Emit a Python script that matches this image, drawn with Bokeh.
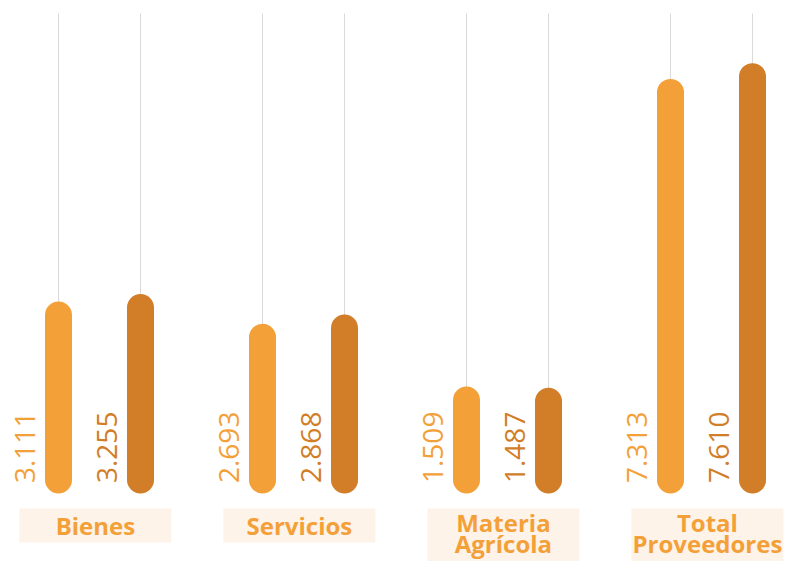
import math
from bokeh.plotting import figure
from bokeh.models import ColumnDataSource, Range1d
from bokeh.transform import dodge
from bokeh.core.properties import value
from bokeh.embed import file_html
from bokeh.resources import INLINE

# ---- data ----
categories = ["Bienes", "Servicios", "Materia Agrícola", "Total Proveedores"]
series_1 = [3.111, 2.693, 1.509, 7.313]
series_2 = [3.255, 2.868, 1.487, 7.610]

# ---- style ----
LIGHT = "#F4A038"
DARK = "#D27D27"
BOX = "#FDF3E8"
GUIDE = "#DADADA"
FONT = "Open Sans"

W, H = 785, 561
PX_PER_CAT = 204.0
X0 = 99.0          # frame px of the first category centre
PX_PER_UNIT = 53.0
Y0 = 479.5         # frame px (from top) of value 0

x_start = -X0 / PX_PER_CAT
x_end = x_start + W / PX_PER_CAT
y_end = Y0 / PX_PER_UNIT
y_start = y_end - H / PX_PER_UNIT


def y_at(frame_px):
    return y_end - frame_px / PX_PER_UNIT


DODGE = 41 / PX_PER_CAT
GUIDE_TOP = y_at(13)

line1 = [c.split(" ", 1)[0] for c in categories]
line2 = [c.split(" ", 1)[1] if " " in c else "" for c in categories]
two_lines = [bool(l) for l in line2]

src = ColumnDataSource(dict(
    idx=list(range(len(categories))),
    s1=series_1,
    s2=series_2,
    s1_lbl=[f"{v:.3f}" for v in series_1],
    s2_lbl=[f"{v:.3f}" for v in series_2],
    guide_top=[GUIDE_TOP] * len(categories),
    line1=line1,
    line2=line2,
    box_y=[y_at(540) if t else y_at(525) for t in two_lines],
    box_h=[64 if t else 34 for t in two_lines],
    line1_y=[y_at(522) if t else y_at(525) for t in two_lines],
    line2_y=[y_at(543)] * len(categories),
))

p = figure(width=W, height=H, output_backend="svg", toolbar_location=None,
           x_range=Range1d(x_start, x_end), y_range=Range1d(y_start, y_end),
           x_axis_location=None, y_axis_location=None, min_border=0,
           background_fill_color="white", border_fill_color="white")
p.outline_line_color = None
p.grid.visible = False

for col, off, color in (("s1", -DODGE, LIGHT), ("s2", DODGE, DARK)):
    xs = dodge("idx", off)
    p.segment(x0=xs, y0=col, x1=xs, y1="guide_top", source=src,
              line_color=GUIDE, line_width=1)
    p.segment(x0=xs, y0=0, x1=xs, y1=col, source=src,
              line_color=color, line_width=27, line_cap="round")
    p.text(x=xs, y=0, text=col + "_lbl", source=src, angle=math.pi / 2,
           x_offset=-34, y_offset=3, text_align="left", text_baseline="middle",
           text_font=value(FONT), text_font_size="28px", text_color=color)

bx = dodge("idx", -0.02)
p.rect(x=bx, y="box_y", width=152 / PX_PER_CAT, height="box_h", height_units="screen",
       source=src, fill_color=BOX, line_color=None)
for col in ("line1", "line2"):
    p.text(x=bx, y=col + "_y", text=col, source=src, text_align="center",
           text_baseline="middle", text_font=value(FONT), text_font_size="24px",
           text_font_style="bold", text_color=LIGHT)

open("out.html", "w").write(file_html(p, INLINE))
